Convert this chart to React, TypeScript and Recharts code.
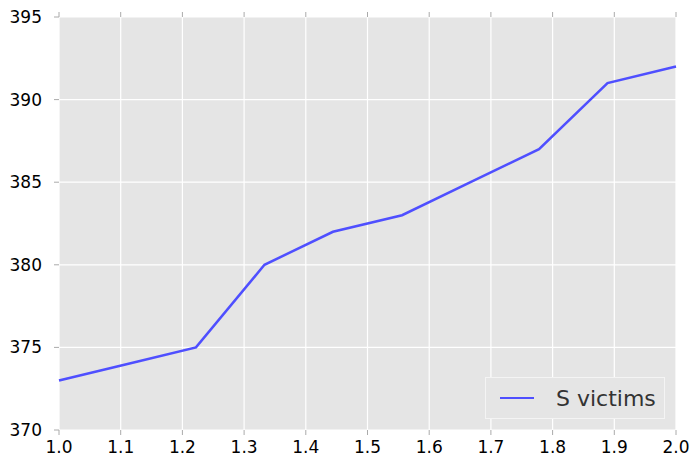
import React from 'react';
import { LineChart, Line, XAxis, YAxis, CartesianGrid, Legend } from 'recharts';

// x positions of the samples (10 evenly spaced points between 1 and 2)
const xValues = [1.0, 1.111, 1.222, 1.333, 1.444, 1.556, 1.667, 1.778, 1.889, 2.0];
const victims = [373, 374, 375, 380, 382, 383, 385, 387, 391, 392];

const xTicks = [1.0, 1.1, 1.2, 1.3, 1.4, 1.5, 1.6, 1.7, 1.8, 1.9, 2.0];
const yTicks = [370, 375, 380, 385, 390, 395];

const data = xValues.map((x, i) => ({ x, victims: victims[i] }));

const FONT = 'DejaVu Sans, sans-serif';
const tickStyle = { fontSize: 17, fill: '#000', fontFamily: FONT };

const LegendBox = () => (
  <div
    style={{
      width: 180,
      height: 42,
      boxSizing: 'border-box',
      border: '1px solid #f4f4f4',
      background: '#e5e5e5',
      display: 'flex',
      alignItems: 'center',
      fontFamily: FONT,
    }}
  >
    <div style={{ width: 34, height: 2.5, background: '#4f4fff', marginLeft: 14 }} />
    <span style={{ marginLeft: 22, fontSize: 22, color: '#333' }}>S victims</span>
  </div>
);

const App: React.FC = () => {
  return (
    <div style={{ position: 'absolute', left: 0, top: 0 }}>
      <LineChart width={692} height={462} data={data} margin={{ top: 0, right: 0, bottom: 0, left: 0 }}>
        <CartesianGrid fill="#e5e5e5" stroke="#ffffff" strokeWidth={1.2} />
        <XAxis
          dataKey="x"
          type="number"
          domain={[1, 2]}
          ticks={xTicks}
          tickFormatter={(v: number) => v.toFixed(1)}
          height={32}
          axisLine={false}
          tickLine={{ stroke: '#aaaaaa' }}
          tickSize={5}
          tickMargin={6}
          tick={tickStyle}
          interval={0}
        />
        <XAxis
          xAxisId="top"
          orientation="top"
          dataKey="x"
          type="number"
          domain={[1, 2]}
          ticks={xTicks}
          tickFormatter={() => ''}
          height={17}
          axisLine={false}
          tickLine={{ stroke: '#aaaaaa' }}
          tickSize={5}
          interval={0}
        />
        <YAxis
          domain={[370, 395]}
          ticks={yTicks}
          width={59}
          axisLine={false}
          tickLine={{ stroke: '#aaaaaa' }}
          tickSize={5}
          tickMargin={12}
          tick={tickStyle}
          interval={0}
        />
        <YAxis
          yAxisId="right"
          orientation="right"
          domain={[370, 395]}
          ticks={yTicks}
          tickFormatter={() => ''}
          width={16}
          axisLine={false}
          tickLine={{ stroke: '#aaaaaa' }}
          tickSize={5}
          interval={0}
        />
        <Legend
          layout="horizontal"
          verticalAlign="middle"
          align="center"
          content={() => <LegendBox />}
          wrapperStyle={{ left: 485, top: 377, width: 180, height: 42 }}
        />
        <Line
          type="linear"
          dataKey="victims"
          stroke="#4f4fff"
          strokeWidth={2.5}
          dot={false}
          isAnimationActive={false}
        />
      </LineChart>
    </div>
  );
};

export default App;
